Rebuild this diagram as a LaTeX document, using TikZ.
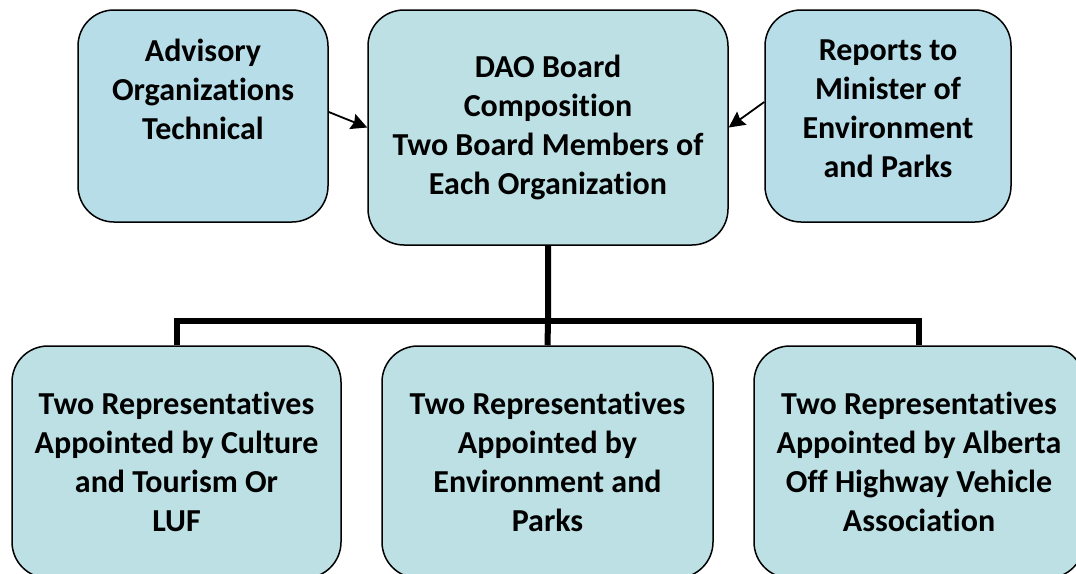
\documentclass[tikz,border=0pt]{standalone}
\usepackage{fontspec}
\setmainfont{Carlito}[Ligatures=NoCommon]
\usetikzlibrary{positioning,arrows.meta}
\definecolor{sideblue}{RGB}{183,221,232}
\definecolor{mainblue}{RGB}{188,224,228}
\tikzset{basic/.style={draw,line width=1.5pt,rounded corners=36pt,fill=mainblue,inner sep=0pt}}
\tikzset{side/.style={basic,fill=sideblue}}
\tikzset{words/.style={align=center,font=\fontsize{32}{39}\selectfont\bfseries,inner sep=0pt}}
\tikzset{link/.style={line width=6pt}}
\tikzset{pointer/.style={line width=1.8pt,-{Stealth[length=16pt,width=16pt,inset=2pt]}}}

\begin{document}
\begin{tikzpicture}[x=1pt,y=-1pt]
        \useasboundingbox (0,0) rectangle (1076,573);
        % top row
        \node[side,minimum width=250pt,minimum height=212pt] (adv) at (203,116) {};
        \node[words] (advtext) at ([yshift=27pt]adv.center) {Advisory\\Organizations\\Technical};
        \node[basic,words,minimum width=360pt,minimum height=235pt] (board) at (548,127.5)
            {DAO Board\\Composition\\Two Board Members of\\Each Organization};
        \node[side,minimum width=246pt,minimum height=212pt] (rep) at (888,116) {};
        \node[words] (reptext) at ([yshift=7.5pt]rep.center) {Reports to\\Minister of\\Environment\\and Parks};
            \draw[pointer] ([yshift=4pt]adv.east) -- (board.west);
            \draw[pointer] ([yshift=14pt]rep.west) -- (board.east);
        % bottom row
        \node[basic,words,minimum width=329pt,minimum height=232pt] (culture) at (176.5,462)
            {Two Representatives\\Appointed by Culture\\and Tourism Or\\LUF};
        \node[basic,words,minimum width=331pt,minimum height=232pt] (env) at (547.5,462)
            {Two Representatives\\Appointed by\\Environment and\\Parks};
        \node[basic,words,minimum width=330pt,minimum height=232pt] (ohv) at (919,462)
            {Two Representatives\\Appointed by Alberta\\Off Highway Vehicle\\Association};
        \coordinate (split) at (548,321);
            \draw[link] (board.south) -- (split) -- (env.north);
            \draw[link] (culture.north) |- (split) -| (ohv.north);
    \end{tikzpicture}
\end{document}
